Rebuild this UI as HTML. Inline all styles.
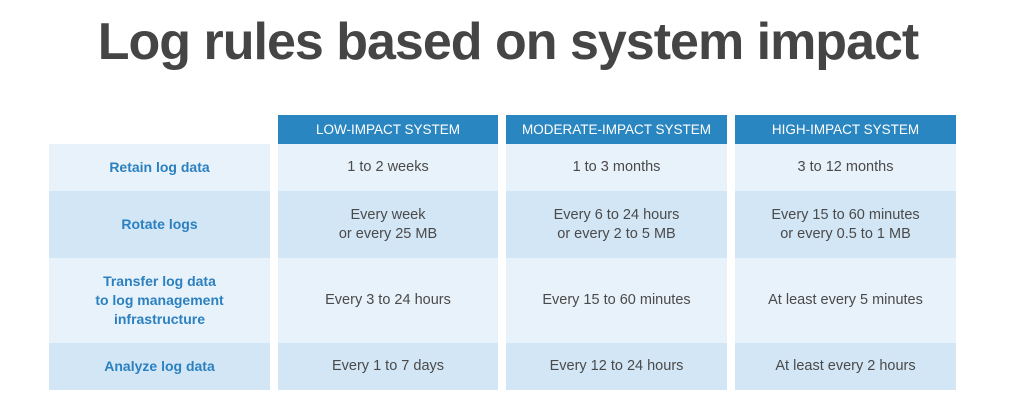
<!DOCTYPE html>
<html><head><meta charset="utf-8"><style>
body{margin:0;width:1016px;height:413px;background:#fff;position:relative;overflow:hidden;font-family:"Liberation Sans",Arial,sans-serif}
.t{position:absolute;left:0;width:1016px;top:12px;text-align:center;font-weight:bold;font-size:52px;color:#454545;letter-spacing:-1px}
.c{position:absolute;display:flex;align-items:center;justify-content:center;text-align:center;box-sizing:border-box;font-size:14.5px;color:#4a4a4a;line-height:19px}
.h{background:#2a86c1;color:#fff;font-size:13.5px}
.l{font-weight:bold;color:#2b80bf;font-size:14px}
.a{background:#e8f2fb}.b{background:#d3e6f6}
</style></head><body>
<div class="t">Log rules based on system impact</div>
<div class="c h" style="left:278px;top:115px;width:220px;height:29px">LOW-IMPACT SYSTEM</div>
<div class="c h" style="left:506px;top:115px;width:221px;height:29px">MODERATE-IMPACT SYSTEM</div>
<div class="c h" style="left:735px;top:115px;width:221px;height:29px">HIGH-IMPACT SYSTEM</div>

<div class="c a l" style="left:49px;top:144px;width:221px;height:47px">Retain log data</div>
<div class="c a" style="left:278px;top:144px;width:220px;height:47px">1 to 2 weeks</div>
<div class="c a" style="left:506px;top:144px;width:221px;height:47px">1 to 3 months</div>
<div class="c a" style="left:735px;top:144px;width:221px;height:47px">3 to 12 months</div>

<div class="c b l" style="left:49px;top:191px;width:221px;height:67px">Rotate logs</div>
<div class="c b" style="left:278px;top:191px;width:220px;height:67px">Every week<br>or every 25 MB</div>
<div class="c b" style="left:506px;top:191px;width:221px;height:67px">Every 6 to 24 hours<br>or every 2 to 5 MB</div>
<div class="c b" style="left:735px;top:191px;width:221px;height:67px">Every 15 to 60 minutes<br>or every 0.5 to 1 MB</div>

<div class="c a l" style="left:49px;top:258px;width:221px;height:85px">Transfer log data<br>to log management<br>infrastructure</div>
<div class="c a" style="left:278px;top:258px;width:220px;height:85px">Every 3 to 24 hours</div>
<div class="c a" style="left:506px;top:258px;width:221px;height:85px">Every 15 to 60 minutes</div>
<div class="c a" style="left:735px;top:258px;width:221px;height:85px">At least every 5 minutes</div>

<div class="c b l" style="left:49px;top:343px;width:221px;height:47px">Analyze log data</div>
<div class="c b" style="left:278px;top:343px;width:220px;height:47px">Every 1 to 7 days</div>
<div class="c b" style="left:506px;top:343px;width:221px;height:47px">Every 12 to 24 hours</div>
<div class="c b" style="left:735px;top:343px;width:221px;height:47px">At least every 2 hours</div>
</body></html>
